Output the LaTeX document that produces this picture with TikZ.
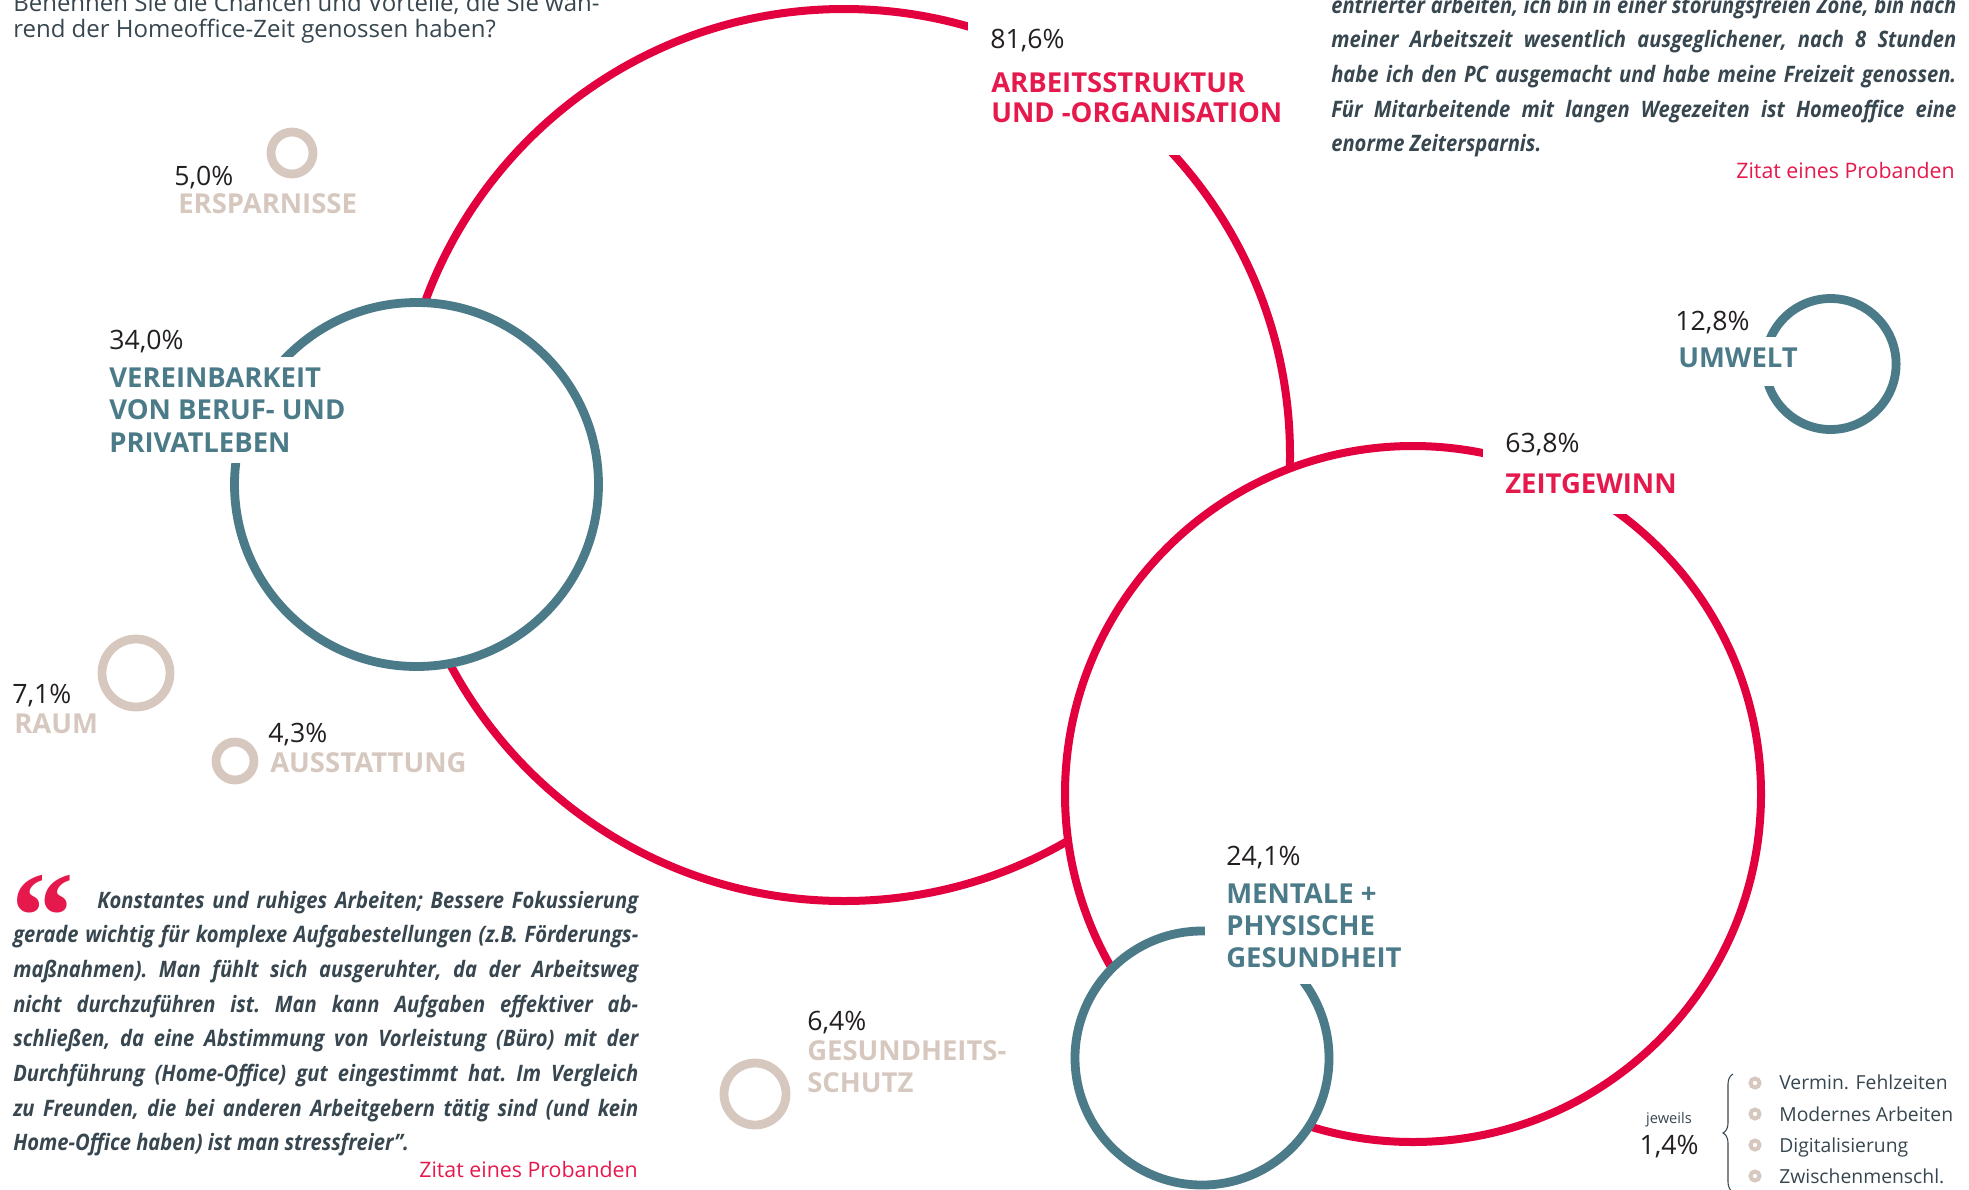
\documentclass[tikz,border=0pt]{standalone}
\usepackage{fontspec}
\setmainfont{Open Sans}
\newfontfamily\qfont[FakeStretch=0.89]{Open Sans}
\newfontfamily\qmarkfont{Liberation Serif}
\usetikzlibrary{decorations.pathreplacing}
\definecolor{cred}{HTML}{E2003E}
\definecolor{tred}{HTML}{E6194D}
\definecolor{cteal}{HTML}{4B7A88}
\definecolor{cbeige}{HTML}{D6C8BF}
\definecolor{slate}{HTML}{37464F}
\definecolor{numc}{HTML}{231F20}
\begin{document}
\begin{tikzpicture}[x=0.75pt,y=-0.75pt,
  redring/.style={draw=cred,line width=6pt},
  tealring/.style={draw=cteal,line width=6.6pt},
  beigering/.style={draw=cbeige,line width=6.6pt},
  mask/.style={fill=white},
  pct/.style={anchor=base west,inner sep=0pt,text=numc,font=\fontsize{20}{24}\selectfont},
  lab/.style={anchor=base west,inner sep=0pt,font=\bfseries\fontsize{20.6}{25}\selectfont},
  quote/.style={anchor=base west,inner sep=0pt,text=slate,text width=468.75pt,align=justify,
     font=\qfont\bfseries\itshape\fontsize{17}{26}\selectfont\frenchspacing},
  source/.style={anchor=base east,inner sep=0pt,text=tred,font=\fontsize{16}{20}\selectfont},
  legtext/.style={anchor=base west,inner sep=0pt,text=slate,font=\fontsize{14.5}{18}\selectfont},
  bullet/.style={draw=cbeige,line width=3pt}]
\useasboundingbox (0,0) rectangle (1969,1189);

% big circle: Arbeitsstruktur
\draw[redring] (844,455) circle[radius=446];
\fill[mask] (968,10) rectangle (1300,155);
% Zeitgewinn
\draw[redring,fill=white] (1413,794) circle[radius=348];
\fill[mask] (1483,420) rectangle (1700,514);
% Vereinbarkeit
\draw[tealring,fill=white] (416.5,484.5) circle[radius=182];
\fill[mask] (100,357) rectangle (350,463);
% Mentale + physische Gesundheit
\draw[tealring,fill=white] (1202,1058) circle[radius=127];
\fill[mask] (1205,835) rectangle (1410,984);
% Umwelt
\draw[tealring] (1830.6,364) circle[radius=65.5];
\fill[mask] (1665,337) rectangle (1798,386);
% small beige circles
\draw[beigering] (292,153) circle[radius=21];
\draw[beigering] (136,673) circle[radius=34];
\draw[beigering] (235,761) circle[radius=19];
\draw[beigering] (755,1094) circle[radius=31];

% header
\node[anchor=base west,inner sep=0pt,text=slate,font=\fontsize{18}{20}\selectfont] (h1) at (13,11.7) {Benennen Sie die Chancen und Vorteile, die Sie wäh-};
\node[anchor=base west,inner sep=0pt,text=slate,font=\fontsize{18}{20}\selectfont] (h2) at (13,37.5) {rend der Homeoffice-Zeit genossen haben?};

% labels
\node[pct] (p1) at (990,48) {81,6\%};
\node[lab,text=tred] (l1a) at (991,92) {ARBEITSSTRUKTUR};
\node[lab,text=tred] (l1b) at (991,122) {UND -ORGANISATION};

\node[pct] (p2) at (1505,452) {63,8\%};
\node[lab,text=tred] (l2) at (1505,493) {ZEITGEWINN};

\node[pct] (p3) at (1675,330) {12,8\%};
\node[lab,text=cteal] (l3) at (1678,367) {UMWELT};

\node[pct] (p4) at (109,349) {34,0\%};
\node[lab,text=cteal] (l4a) at (109,387) {VEREINBARKEIT};
\node[lab,text=cteal] (l4b) at (109,419) {VON BERUF- UND};
\node[lab,text=cteal] (l4c) at (109,452) {PRIVATLEBEN};

\node[pct] (p5) at (1226,865) {24,1\%};
\node[lab,text=cteal] (l5a) at (1226,903) {MENTALE +};
\node[lab,text=cteal] (l5b) at (1226,935) {PHYSISCHE};
\node[lab,text=cteal] (l5c) at (1226,967) {GESUNDHEIT};

\node[pct] (p6) at (174,185) {5,0\%};
\node[lab,text=cbeige] (l6) at (178,213) {ERSPARNISSE};

\node[pct] (p7) at (12,703) {7,1\%};
\node[lab,text=cbeige] (l7) at (14,733) {RAUM};

\node[pct] (p8) at (268,742) {4,3\%};
\node[lab,text=cbeige] (l8) at (270,772) {AUSSTATTUNG};

\node[pct] (p9) at (807,1030) {6,4\%};
\node[lab,text=cbeige] (l9a) at (807,1060) {GESUNDHEITS-};
\node[lab,text=cbeige] (l9b) at (807,1092) {SCHUTZ};

% top right quote
\node[quote] (q1) at (1331,13) {entrierter arbeiten, ich bin in einer störungsfreien Zone, bin nach\linebreak
meiner Arbeitszeit wesentlich ausgeglichener, nach 8 Stunden\linebreak
habe ich den PC ausgemacht und habe meine Freizeit genossen.\linebreak
Für Mitarbeitende mit langen Wegezeiten ist Homeoffice eine\linebreak
enorme Zeitersparnis.};
\node[source] (s1) at (1955,178) {Zitat eines Probanden};

% bottom left quote
\node[anchor=base west,inner sep=0pt,text=tred,font=\qmarkfont\bfseries\fontsize{94}{94}\selectfont] (qm) at (11,958) {“};
\node[quote] (q2) at (13,908) {\hspace*{63pt}Konstantes und ruhiges Arbeiten; Bessere Fokussierung\linebreak
gerade wichtig für komplexe Aufgabestellungen (z.B. Förderungs-\linebreak
maßnahmen). Man fühlt sich ausgeruhter, da der Arbeitsweg\linebreak
nicht durchzuführen ist. Man kann Aufgaben effektiver ab-\linebreak
schließen, da eine Abstimmung von Vorleistung (Büro) mit der\linebreak
Durchführung (Home-Office) gut eingestimmt hat. Im Vergleich\linebreak
zu Freunden, die bei anderen Arbeitgebern tätig sind (und kein\linebreak
Home-Office haben) ist man stressfreier”.};
\node[source] (s2) at (638,1177) {Zitat eines Probanden};

% legend
\node[anchor=base,inner sep=0pt,text=slate,font=\fontsize{11}{13}\selectfont] (jw) at (1669,1123) {jeweils};
\node[anchor=base,inner sep=0pt,text=numc,font=\fontsize{20}{24}\selectfont] (p10) at (1669,1154) {1,4\%};
\coordinate (bb) at (1733,1192);
\coordinate (bt) at (1733,1074);
\draw[slate,line width=0.8pt,decorate,decoration={brace,amplitude=7.5pt}] (bb) -- (bt);
\draw[bullet] (1755,1083) circle[radius=4.5];
\draw[bullet] (1755,1114) circle[radius=4.5];
\draw[bullet] (1755,1145) circle[radius=4.5];
\draw[bullet] (1755,1176) circle[radius=4.5];
\node[legtext] (g1) at (1779,1089) {Vermin. Fehlzeiten};
\node[legtext] (g2) at (1779,1121) {Modernes Arbeiten};
\node[legtext] (g3) at (1779,1152) {Digitalisierung};
\node[legtext] (g4) at (1779,1183) {Zwischenmenschl.};
\end{tikzpicture}
\end{document}
